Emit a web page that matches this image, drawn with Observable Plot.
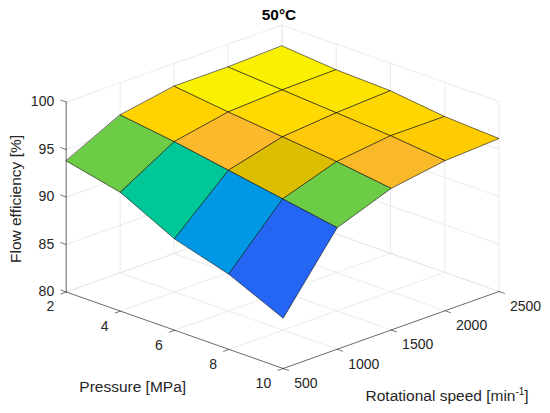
<!DOCTYPE html>
<html><head><meta charset="utf-8">
<script src="https://cdn.jsdelivr.net/npm/d3@7"></script>
<script src="https://cdn.jsdelivr.net/npm/@observablehq/plot@0.6"></script>
<style>body{margin:0;background:#fff} #chart svg{display:block}</style>
</head><body><div id="chart"></div>
<script>
// ---- data ----
const pressure = [2, 4, 6, 8, 10];               // MPa
const speed = [500, 1000, 1500, 2000, 2500];     // min^-1
// efficiency[pressureIndex][speedIndex]  (%)
const efficiency = [
  [93.8, 96.6, 97.6, 97.6, 97.8],
  [92.5, 95.8, 96.9, 97.2, 97.3],
  [89.6, 94.8, 96.3, 96.8, 97.1],
  [87.9, 93.8, 95.7, 96.4, 96.4],
  [85.3, 92.8, 94.9, 95.8, 96.1]
];
const zTicks = [80, 85, 90, 95, 100];
const pTicks = [2, 4, 6, 8, 10];
const sTicks = [500, 1000, 1500, 2000, 2500];
const titleText = "50°C";
const zLabel = "Flow efficiency [%]";
const pLabel = "Pressure [MPa]";
const sLabel = "Rotational speed [min-1]";

// parula-like colormap stops
const cmapStops = [0, 0.21, 0.34, 0.58, 0.68, 0.76, 0.84, 0.89, 0.93, 1];
const cmapColors = ["#3D2AA3", "#2566F5", "#0096E6", "#00C896", "#6DCC45", "#DCBE00", "#FDB92C", "#FFCD00", "#FFDA00", "#F8F800"];

// ---- 3D box projection (orthographic) ----
const pDom = [2, 10], sDom = [500, 2500], zDom = [80, 100];
const O = [65.7, 291.5], A = [217, 76.5], B = [215.8, -77], C = [0, -190];
function proj(p, s, z) {
  const u = (p - pDom[0]) / (pDom[1] - pDom[0]);
  const v = (s - sDom[0]) / (sDom[1] - sDom[0]);
  const w = (z - zDom[0]) / (zDom[1] - zDom[0]);
  return [O[0] + u * A[0] + v * B[0] + w * C[0], O[1] + u * A[1] + v * B[1] + w * C[1]];
}
function seg(list, id, a, b) {
  const pa = proj(...a), pb = proj(...b);
  list.push({id, x: pa[0], y: pa[1]}, {id, x: pb[0], y: pb[1]});
}

// grid
const grid = [];
let k = 0;
for (const p of pTicks) seg(grid, k++, [p, sDom[0], zDom[0]], [p, sDom[1], zDom[0]]);
for (const s of sTicks) seg(grid, k++, [pDom[0], s, zDom[0]], [pDom[1], s, zDom[0]]);
for (const s of sTicks) seg(grid, k++, [pDom[0], s, zDom[0]], [pDom[0], s, zDom[1]]);
for (const z of zTicks) seg(grid, k++, [pDom[0], sDom[0], z], [pDom[0], sDom[1], z]);
for (const p of pTicks) seg(grid, k++, [p, sDom[1], zDom[0]], [p, sDom[1], zDom[1]]);
for (const z of zTicks) seg(grid, k++, [pDom[0], sDom[1], z], [pDom[1], sDom[1], z]);

// axes + ticks
const axes = [];
k = 0;
seg(axes, k++, [pDom[0], sDom[0], zDom[0]], [pDom[0], sDom[0], zDom[1]]);
seg(axes, k++, [pDom[0], sDom[0], zDom[0]], [pDom[1], sDom[0], zDom[0]]);
seg(axes, k++, [pDom[1], sDom[0], zDom[0]], [pDom[1], sDom[1], zDom[0]]);
const tp = 0.025 * (pDom[1] - pDom[0]), ts = 0.025 * (sDom[1] - sDom[0]);
for (const z of zTicks) seg(axes, k++, [pDom[0], sDom[0], z], [pDom[0] - tp, sDom[0], z]);
for (const p of pTicks) seg(axes, k++, [p, sDom[0], zDom[0]], [p, sDom[0] - ts, zDom[0]]);
for (const s of sTicks) seg(axes, k++, [pDom[1], s, zDom[0]], [pDom[1] + tp, s, zDom[0]]);

// surface cells
const cells = [];
const order = [];
for (let i = 0; i < pressure.length - 1; i++)
  for (let j = 0; j < speed.length - 1; j++) order.push([i, j]);
order.sort((a, b) => (a[0] - a[1]) - (b[0] - b[1]));
for (const [i, j] of order) {
  const id = i * 10 + j;
  const val = efficiency[i][j];
  for (const [ii, jj] of [[i, j], [i + 1, j], [i + 1, j + 1], [i, j + 1]]) {
    const [x, y] = proj(pressure[ii], speed[jj], efficiency[ii][jj]);
    cells.push({id, x, y, val});
  }
}

// labels
const zLab = zTicks.map(z => { const [x, y] = proj(pDom[0], sDom[0], z); return {x, y, t: String(z)}; });
const pLab = pTicks.map(p => { const [x, y] = proj(p, sDom[0], zDom[0]); return {x, y, t: String(p)}; });
const sLab = sTicks.map(s => { const [x, y] = proj(pDom[1], s, zDom[0]); return {x, y, t: String(s)}; });
const zMid = proj(pDom[0], sDom[0], (zDom[0] + zDom[1]) / 2);
const pMid = proj((pDom[0] + pDom[1]) / 2, sDom[0], zDom[0]);
const sMid = proj(pDom[1], (sDom[0] + sDom[1]) / 2, zDom[0]);
const topC = proj(pDom[0], sDom[1], zDom[1]);

const zmin = d3.min(efficiency.flat()), zmax = d3.max(efficiency.flat());
const font = "Liberation Sans, Arial, Helvetica, sans-serif";
const tc = "#262626";

const chart = Plot.plot({
  width: 550, height: 413,
  margin: 0,
  x: {type: "identity", axis: null},
  y: {type: "identity", axis: null},
  color: {type: "linear", domain: cmapStops.map(t => zmin + t * (zmax - zmin)), range: cmapColors, interpolate: "rgb"},
  style: {fontFamily: font, background: "#fff"},
  marks: [
    Plot.line(grid, {x: "x", y: "y", z: "id", stroke: "#e2e2e2", strokeWidth: 0.7}),
    Plot.line(axes, {x: "x", y: "y", z: "id", stroke: "#3a3a3a", strokeWidth: 0.7}),
    Plot.line(cells, {x: "x", y: "y", z: "id", fill: "val", stroke: "#111", strokeWidth: 0.7, strokeOpacity: 0.85, curve: "linear-closed"}),
    Plot.text(zLab, {x: "x", y: "y", text: "t", textAnchor: "end", dx: -12, fontSize: 14, fill: tc}),
    Plot.text(pLab, {x: "x", y: "y", text: "t", textAnchor: "end", dx: -12, dy: 15, fontSize: 14, fill: tc}),
    Plot.text(sLab, {x: "x", y: "y", text: "t", textAnchor: "start", dx: 11, dy: 15, fontSize: 14, fill: tc}),
    Plot.text([zLabel], {x: () => 16, y: () => zMid[1] + 2, text: d => d, rotate: -90, fontSize: 15.5, fill: tc}),
    Plot.text([pLabel], {x: () => pMid[0] - 42, y: () => pMid[1] + 57, text: d => d, fontSize: 15.5, fill: tc}),
    Plot.text([sLabel], {x: () => sMid[0] + 56, y: () => sMid[1] + 66, text: d => d, fontSize: 15.5, fill: tc, className: "slabel"}),
    Plot.text([titleText], {x: () => topC[0] - 3, y: () => 15, text: d => d, fontSize: 15.4, fontWeight: "bold", fill: "#000"})
  ]
});
document.getElementById("chart").append(chart);
// superscript for min^-1
const st = chart.querySelector(".slabel text");
if (st) {
  st.textContent = "";
  const NS = "http://www.w3.org/2000/svg";
  const t1 = document.createElementNS(NS, "tspan"); t1.textContent = "Rotational speed [min";
  const t2 = document.createElementNS(NS, "tspan"); t2.textContent = "-1"; t2.setAttribute("dy", "-6"); t2.setAttribute("font-size", "10");
  const t3 = document.createElementNS(NS, "tspan"); t3.textContent = "]"; t3.setAttribute("dy", "6");
  st.append(t1, t2, t3);
}
</script>
</body></html>
